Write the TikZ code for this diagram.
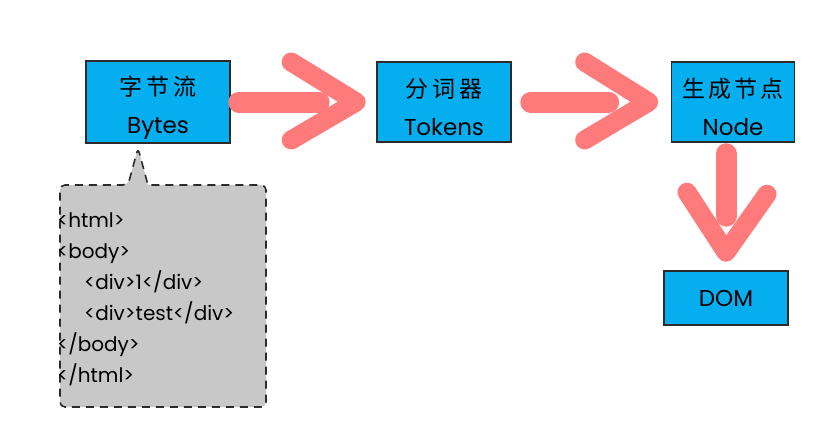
\documentclass[tikz,border=0pt]{standalone}
\usepackage{fontspec}
\setmainfont{Poppins}
\newfontfamily\cjk{Noto Sans CJK SC}
\usetikzlibrary{positioning,calc}
\definecolor{boxfill}{HTML}{05AEEF}
\definecolor{ink}{HTML}{2b2b2b}
\definecolor{brushred}{HTML}{FF7B7B}
\definecolor{notegray}{HTML}{C8C8C8}
\newcommand{\zh}[1]{{\cjk\fontsize{23}{28}\selectfont\rule{0pt}{30pt}#1}}

\begin{document}
\begin{tikzpicture}[x=1pt,y=-1pt,font=\fontsize{23}{28}\selectfont,
  stage/.style={draw=ink,line width=1.6pt,fill=boxfill,inner sep=0pt,align=center},
  brush/.style={draw=brushred,line width=19pt,line cap=round,line join=round},
  note/.style={draw=ink,line width=1.6pt,fill=notegray,dash pattern=on 8pt off 6pt,rounded corners=5pt}]
  \useasboundingbox (0,0) rectangle (817,434);
  \node[stage,minimum width=144pt,minimum height=82pt] (bytes) at (158,102) {\zh{字\hspace{4pt}节\hspace{4pt}流}\\[10pt]Bytes};
  \node[stage,minimum width=134pt,minimum height=80pt] (tokens) at (444,102) {\zh{分\hspace{4pt}词\hspace{4pt}器}\\[10pt]Tokens};
  \node[stage,minimum width=123pt,minimum height=80pt] (nodes) at (733,102) {\zh{生\hspace{3pt}成\hspace{3pt}节\hspace{3pt}点}\\[10pt]Node};
  \node[stage,minimum width=124pt,minimum height=54pt] (dom) at (726,298) {DOM};
  % speech bubble with the html source
  \draw[note] (128,185) -- (138,148) [sharp corners]-- (148,185) [rounded corners=5pt]-- (266,185) -- (266,407) -- (60,407) -- (60,185) -- cycle;
  \node[anchor=north west,align=left,inner sep=0pt,font=\fontsize{20}{31}\selectfont] (html) at (57,212)
    {<html>\\<body>\\\hspace*{27pt}<div>1</div>\\\hspace*{27pt}<div>test</div>\\</body>\\</html>};
  % brush arrows
  \draw[brush,line width=21pt] ([xshift=8pt]bytes.east) -- ([xshift=-57pt]tokens.west);
  \draw[brush] ([xshift=-85pt,yshift=40pt]tokens.west) -- ([xshift=-20pt]tokens.west) -- ([xshift=-85pt,yshift=-38pt]tokens.west);
  \draw[brush,line width=21pt] ([xshift=19pt]tokens.east) -- ([xshift=-62pt]nodes.west);
  \draw[brush] ([xshift=-86pt,yshift=40pt]nodes.west) -- ([xshift=-22pt]nodes.west) -- ([xshift=-86pt,yshift=-38pt]nodes.west);
  \draw[brush,line width=21pt] ([yshift=-11pt]nodes.south -| dom.north) -- ([yshift=54pt]dom.north);
  \draw[brush] ([xshift=-39pt,yshift=78pt]dom.north) -- ([yshift=18pt]dom.north) -- ([xshift=41pt,yshift=76pt]dom.north);
\end{tikzpicture}
\end{document}
